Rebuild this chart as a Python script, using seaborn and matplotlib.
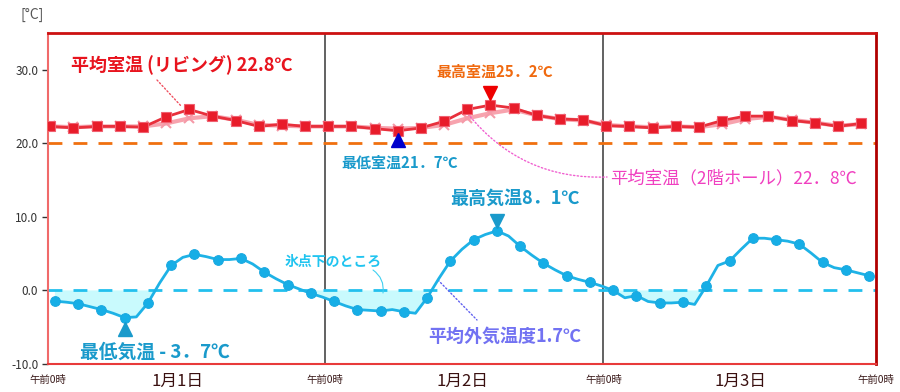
import numpy as np
import matplotlib
matplotlib.use("Agg")
import matplotlib.pyplot as plt
import seaborn as sns

# ---------------- data ----------------
day_labels = ["1月1日", "1月2日", "1月3日"]
midnight_label = "午前0時"
y_ticks = [-10, 0, 10, 20, 30]

# living room (2-hourly)
living_temp = [22.3, 22.1, 22.3, 22.3, 22.2, 23.6, 24.6, 23.7, 23.1, 22.3, 22.6, 22.3,
               22.3, 22.3, 22.0, 21.7, 22.1, 23.0, 24.6, 25.2, 24.8, 23.8, 23.3, 23.2,
               22.4, 22.3, 22.1, 22.3, 22.2, 23.1, 23.7, 23.7, 23.1, 22.8, 22.3, 22.7]
# 2F hall (2-hourly)
hall_temp = [22.3, 22.2, 22.3, 22.3, 22.3, 22.7, 23.4, 23.7, 23.2, 22.5, 22.4, 22.3,
             22.3, 22.3, 22.1, 22.0, 22.1, 22.5, 23.4, 24.1, 24.6, 23.8, 23.3, 23.1,
             22.5, 22.3, 22.2, 22.3, 22.2, 22.6, 23.3, 23.6, 23.2, 22.8, 22.4, 22.6]
# outdoor (hourly)
outdoor_temp = [-1.45, -1.6, -1.8, -2.2, -2.6, -3.1, -3.7, -3.6, -1.7, 1.0, 3.4, 4.5,
                4.9, 4.6, 4.2, 4.2, 4.35, 3.6, 2.5, 1.6, 0.8, 0.2, -0.4, -0.9,
                -1.5, -2.1, -2.6, -2.7, -2.8, -2.6, -2.9, -3.1, -1.0, 1.6, 4.0, 5.6,
                6.9, 7.6, 8.1, 7.4, 6.0, 4.8, 3.7, 2.8, 2.0, 1.5, 1.1, 0.6,
                0.0, -1.0, -0.7, -1.5, -1.7, -1.7, -1.6, -1.9, 0.6, 3.4, 4.0, 5.6,
                7.1, 7.1, 6.9, 6.7, 6.3, 5.1, 3.8, 3.1, 2.8, 2.4, 2.0]

heat_target = 20.0
freeze = 0.0

t_in = np.linspace(0.2, 70.7, len(living_temp))
t_out = np.linspace(0.6, 71.4, len(outdoor_temp))
living = np.array(living_temp)
hall = np.array(hall_temp)
outdoor = np.array(outdoor_temp)

# ---------------- style ----------------
sns.set_theme(style="white")
plt.rcParams['font.family'] = ['Noto Sans CJK JP', 'DejaVu Sans']

W, H = 900, 392
fig = plt.figure(figsize=(W / 100, H / 100), dpi=100)
ax = fig.add_axes([48 / W, 1 - 364 / H, (876 - 48) / W, (364 - 33) / H])

def fp(x, y):
    return (x / W, 1 - y / H)

# guide lines
ax.axhline(heat_target, color="#f0700f", lw=2, dashes=(5, 4), zorder=2)
ax.axhline(freeze, color="#22c0ee", lw=2, dashes=(5, 4), zorder=2)
ax.axvline(24.1, color="#555555", lw=1.3, zorder=1)
ax.axvline(48.3, color="#555555", lw=1.3, zorder=1)

# freezing fill
ax.fill_between(t_out, outdoor, freeze, where=outdoor < freeze, interpolate=True,
                color="#c9fafd", lw=0, zorder=1)

# series
sns.lineplot(x=t_in, y=hall, ax=ax, color="#f7a3ae", lw=3, marker="x", markersize=7,
             markeredgewidth=1.5, markeredgecolor="#f59aa8", zorder=3, sort=False)
sns.lineplot(x=t_in, y=living, ax=ax, color="#e8303c", lw=2, marker="s", markersize=7,
             markeredgecolor="#f06070", markerfacecolor="#e81c2a", markeredgewidth=0.8,
             zorder=4, sort=False)
sns.lineplot(x=t_out, y=outdoor, ax=ax, color="#1eb2e6", lw=2, marker="o", markersize=7,
             markevery=2, markeredgecolor="#1aa8e0", markerfacecolor="#16aee6",
             zorder=4, sort=False)

# extreme markers
i_max = int(np.argmax(living)); i_min = int(np.argmin(living))
ax.plot(t_in[i_max], living[i_max] + 1.6, marker="v", ms=10, color="#ee0000", ls="none", zorder=5)
ax.plot(t_in[i_min], living[i_min] - 1.2, marker="^", ms=10, color="#0000cc", ls="none", zorder=5)
o_max = int(np.argmax(outdoor)); o_min = int(np.argmin(outdoor))
ax.plot(t_out[o_max], outdoor[o_max] + 1.4, marker="v", ms=10, color="#1a9acb", ls="none", zorder=5)
ax.plot(t_out[o_min], outdoor[o_min] - 1.6, marker="^", ms=10, color="#1a9acb", ls="none", zorder=5)

# axes
ax.set_xlim(0, 72)
ax.set_ylim(-10, 35)
ax.set_yticks(y_ticks, labels=[f"{v:.1f}" for v in y_ticks])
ax.set_xticks([0, 24.1, 48.3, 72], labels=[midnight_label] * 4)
ax.tick_params(axis="y", left=True, length=4, width=1, color="#333333", labelsize=8.5,
               labelcolor="#333333", pad=3)
ax.tick_params(axis="x", bottom=False, length=0, labelsize=7.5, labelcolor="#3a1a1a", pad=8)
ax.set_xlabel(""); ax.set_ylabel("")

for side, col, lw in [("left", "#f06a6a", 1.5), ("top", "#cc1111", 2),
                      ("right", "#b00000", 2), ("bottom", "#e83a3a", 1.5)]:
    ax.spines[side].set_visible(True)
    ax.spines[side].set_color(col)
    ax.spines[side].set_linewidth(lw)

trans = ax.get_xaxis_transform()
for xd, lab in zip([11.3, 36, 60.2], day_labels):
    ax.text(xd, -0.054, lab, transform=trans, ha="center", va="center",
            fontsize=12, color="#3a1010")

fig.text(*fp(32, 15), "[°C]", ha="center", va="center", fontsize=10, color="#555555")

# annotations
fig.text(*fp(182, 65), "平均室温 (リビング) 22.8℃", ha="center", va="center",
         fontsize=13, color="#e8141e", fontweight="bold")
fig.text(*fp(495, 72), "最高室温25．2℃", ha="center", va="center",
         fontsize=10.8, color="#f06a10", fontweight="bold")
fig.text(*fp(400, 163), "最低室温21．7℃", ha="center", va="center",
         fontsize=10.8, color="#1a9acb", fontweight="bold")
fig.text(*fp(734, 178), "平均室温（2階ホール）22．8℃", ha="center", va="center",
         fontsize=12.5, color="#f040c0")
fig.text(*fp(515, 198), "最高気温8．1℃", ha="center", va="center",
         fontsize=13, color="#1a9acb", fontweight="bold")
fig.text(*fp(333, 262), "氷点下のところ", ha="center", va="center",
         fontsize=10, color="#20c4f0", fontweight="bold")
fig.text(*fp(505, 336), "平均外気温度1.7℃", ha="center", va="center",
         fontsize=13, color="#7272f2", fontweight="bold")
fig.text(*fp(155, 352), "最低気温 - 3．7℃", ha="center", va="center",
         fontsize=13.5, color="#1a9acb", fontweight="bold")

def leader(p0, p1, color, ls=":", rad=0.0, lw=1):
    ax.annotate("", xy=fp(*p1), xytext=fp(*p0), xycoords="figure fraction",
                textcoords="figure fraction",
                arrowprops=dict(arrowstyle="-", color=color, lw=lw, linestyle=ls,
                                connectionstyle=f"arc3,rad={rad}", shrinkA=0, shrinkB=0))

leader((157, 80), (182, 107), "#f05060")
leader((468, 114), (607, 177), "#f060d0", rad=0.25)
leader((438, 280), (477, 320), "#6060f0")
leader((373, 270), (383, 293), "#40d0f0", ls="-", rad=-0.3, lw=0.8)

fig.savefig("out.png", dpi=100)
